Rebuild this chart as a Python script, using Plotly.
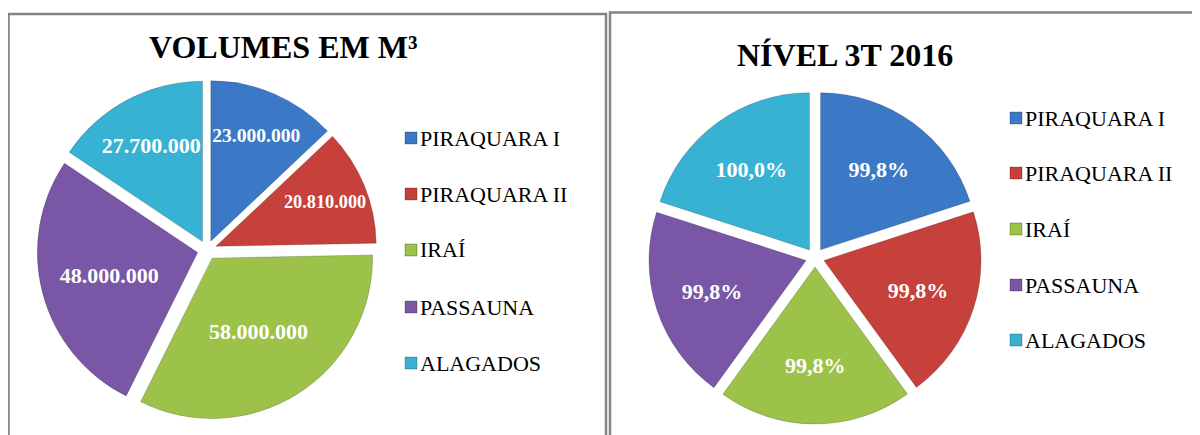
import plotly.graph_objects as go

# ---- data ----
labels = ["PIRAQUARA I", "PIRAQUARA II", "IRAÍ", "PASSAUNA", "ALAGADOS"]
volumes = [23000000, 20810000, 58000000, 48000000, 27700000]
volume_text = ["23.000.000", "20.810.000", "58.000.000", "48.000.000", "27.700.000"]
levels = [99.8, 99.8, 99.8, 99.8, 100.0]
level_text = ["99,8%", "99,8%", "99,8%", "99,8%", "100,0%"]
title_left = "VOLUMES EM M³"
title_right = "NÍVEL 3T 2016"

colors = ["#3B78C6", "#C6403C", "#9CC24A", "#7A57A6", "#38B2D3"]
SERIF = "Liberation Serif, Times New Roman, DejaVu Serif, serif"

# the page body has an 8px margin, so the figure starts at (8, 8) of the window
OFF = 8
W, H = 1192, 427


def px(x):
    return (x - OFF) / W


def py(y):
    return 1 - (y - OFF) / H


fig = go.Figure()

label_font = dict(family=SERIF, size=22, color="white")
common = dict(
    sort=False, direction="clockwise", rotation=0,
    pull=[0.06] * 5, textinfo="text", textposition="inside",
    insidetextorientation="horizontal",
    textfont=label_font, insidetextfont=label_font,
    marker=dict(colors=colors, line=dict(color="rgba(0,0,0,0.18)", width=1)),
    showlegend=False, hoverinfo="label+value",
)

fig.add_trace(go.Pie(
    labels=labels, values=volumes, text=["<b>%s</b>" % t for t in volume_text],
    domain=dict(x=[px(37), px(377)], y=[py(420), py(80)]), **common))

fig.add_trace(go.Pie(
    labels=labels, values=levels, text=["<b>%s</b>" % t for t in level_text],
    domain=dict(x=[px(648), px(982)], y=[py(424), py(91)]), **common))

# panel borders
fig.add_shape(type="rect", xref="paper", yref="paper",
              x0=px(8.5), x1=px(606), y0=py(445), y1=py(14),
              line=dict(color="#858585", width=2.5))
fig.add_shape(type="rect", xref="paper", yref="paper",
              x0=px(610), x1=px(1215), y0=py(445), y1=py(12.5),
              line=dict(color="#858585", width=2.5))

# titles
fig.add_annotation(x=px(283), y=py(47), xref="paper", yref="paper",
                   text="<b>%s</b>" % title_left, showarrow=False,
                   font=dict(family=SERIF, size=32, color="black"),
                   xanchor="center", yanchor="middle")
fig.add_annotation(x=px(845), y=py(55), xref="paper", yref="paper",
                   text="<b>%s</b>" % title_right, showarrow=False,
                   font=dict(family=SERIF, size=32, color="black"),
                   xanchor="center", yanchor="middle")


# manual legends
def add_legend(x_sq, rows_y):
    for lab, col, yy in zip(labels, colors, rows_y):
        fig.add_shape(type="rect", xref="paper", yref="paper",
                      x0=px(x_sq), x1=px(x_sq + 12), y0=py(yy + 6), y1=py(yy - 6),
                      fillcolor=col, line=dict(color="rgba(0,0,0,0.25)", width=1))
        fig.add_annotation(x=px(x_sq + 13), y=py(yy), xref="paper", yref="paper",
                           text=lab, showarrow=False,
                           font=dict(family=SERIF, size=22, color="black"),
                           xanchor="left", yanchor="middle")


add_legend(405, [138, 194, 250, 307, 363])
add_legend(1010, [118, 173, 229, 285, 340])

fig.update_layout(
    width=W, height=H, margin=dict(l=0, r=0, t=0, b=0),
    paper_bgcolor="white", plot_bgcolor="white",
)

fig.write_html("out.html")
